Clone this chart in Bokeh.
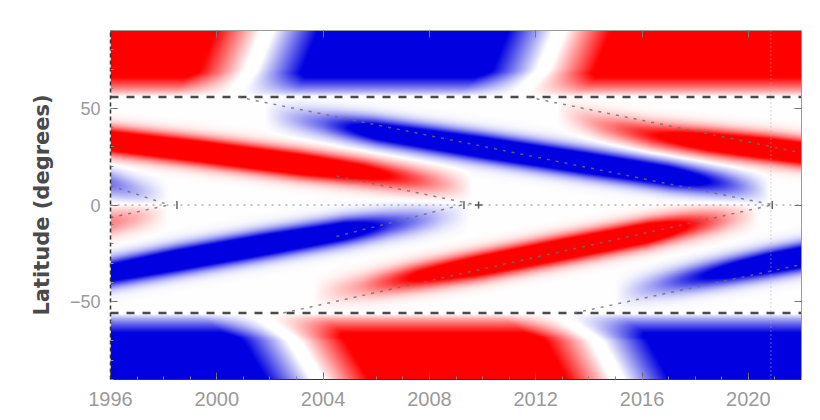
import numpy as np
from bokeh.plotting import figure
from bokeh.models import Range1d, FixedTicker, LinearAxis
from bokeh.embed import file_html
from bokeh.resources import INLINE

# ---------------- data ----------------
year_start, year_end = 1996, 2022
lat_start, lat_end = -90, 90
year_ticks = [1996, 2000, 2004, 2008, 2012, 2016, 2020]
year_minor = list(range(1996, 2023))
lat_ticks = [-50, 0, 50]
lat_tick_labels = ["\u221250", "0", "50"]
lat_minor = list(range(-90, 91, 10))
y_title = "Latitude (degrees)"

boundary_lat = [55.7, -55.7]          # dashed lines
reference_year = 2020.85              # faint vertical dotted line

# wing bands: year, centre latitude, strength (+ red, - blue)
n22_t = [1996.0, 1997.0, 1998.2]
n22_lat = [11.0, 7.5, 4.0]
n22_amp = [-0.55, -0.3, 0.0]

s22_t = [1996.0, 1997.0, 1998.2]
s22_lat = [-9.0, -6.5, -3.5]
s22_amp = [0.5, 0.3, 0.0]

n23_t = [1996.0, 1999.4, 2003.1, 2005.5, 2007.5, 2009.6]
n23_lat = [33.0, 27.5, 21.0, 17.0, 13.0, 9.0]
n23_amp = [1.7, 1.8, 1.8, 1.3, 0.7, 0.0]

n24_t = [2001.8, 2004.0, 2006.0, 2010.0, 2014.0, 2017.0, 2019.0, 2020.8]
n24_lat = [46.6, 42.1, 37.9, 29.7, 21.4, 15.2, 11.1, 7.4]
n24_amp = [0.0, -0.6, -1.4, -1.8, -1.8, -1.6, -0.8, 0.0]

n25_t = [2012.8, 2014.5, 2016.4, 2018.5, 2020.8, 2022.0]
n25_lat = [48.0, 41.0, 36.0, 32.5, 29.0, 27.0]
n25_amp = [0.0, 0.45, 0.95, 1.5, 1.8, 1.8]

s23_t = [1996.0, 1998.5, 2001.6, 2004.8, 2006.5, 2008.5, 2009.5]
s23_lat = [-35.0, -28.5, -21.0, -13.5, -10.0, -6.5, -4.5]
s23_amp = [-1.5, -1.8, -1.8, -1.5, -0.8, -0.2, 0.0]

s24_t = [2003.6, 2005.5, 2007.5, 2010.0, 2013.0, 2016.2, 2017.5, 2019.3, 2020.4]
s24_lat = [-46.0, -42.0, -37.0, -31.0, -23.0, -14.5, -11.0, -7.0, -4.5]
s24_amp = [0.0, 0.4, 1.1, 1.7, 1.8, 1.7, 1.1, 0.35, 0.0]

s25_t = [2015.0, 2016.5, 2018.0, 2019.3, 2020.8, 2022.0]
s25_lat = [-46.0, -41.5, -37.5, -34.0, -30.0, -27.0]
s25_amp = [0.0, -0.4, -0.9, -1.3, -1.7, -1.8]

# polar caps: years of polarity reversal at three |latitudes|
north_cap_lat = [56.0, 70.0, 90.0]
north_flip1 = [2000.6, 2001.3, 2001.9]
north_flip2 = [2011.3, 2012.3, 2012.9]
north_signs = [1, -1, 1]
south_cap_lat = [56.0, 70.0, 90.0]
south_flip1 = [2001.5, 2002.9, 2003.8]
south_flip2 = [2012.8, 2014.3, 2015.1]
south_signs = [-1, 1, -1]

# dotted guide lines (year, latitude pairs)
guide_xs = [[1996.0, 1998.2], [1996.0, 1998.2], [2004.5, 2009.6],
            [2000.8, 2020.95], [2011.7, 2022.0], [2004.5, 2009.2],
            [2002.5, 2020.9], [2013.45, 2022.0]]
guide_ys = [[10.0, 0.0], [-6.5, 0.0], [14.9, 0.5],
            [55.7, 0.0], [55.7, 26.9], [-16.2, 0.0],
            [-55.7, 0.0], [-55.7, -30.7]]
equator_marks = [1998.5, 2009.3, 2020.9]
equator_cross = [2009.85]

# ---------------- field rendering ----------------
nx, ny = 691, 349
tt = year_start + (np.arange(nx) + 0.5) * (year_end - year_start) / nx
ll = lat_start + (np.arange(ny) + 0.5) * (lat_end - lat_start) / ny
T, L = np.meshgrid(tt, ll)
sigma = 4.7
field = np.zeros_like(T)
bands = [(n22_t, n22_lat, n22_amp), (s22_t, s22_lat, s22_amp),
         (n23_t, n23_lat, n23_amp), (n24_t, n24_lat, n24_amp),
         (n25_t, n25_lat, n25_amp), (s23_t, s23_lat, s23_amp),
         (s24_t, s24_lat, s24_amp), (s25_t, s25_lat, s25_amp)]
for bt, bl, ba in bands:
    c = np.interp(tt, bt, bl)
    a = np.interp(tt, bt, ba, left=0.0, right=0.0)
    field += a[None, :] * np.exp(-(L - c[None, :]) ** 2 / (2 * sigma ** 2))


def cap(cap_lat, f1p, f2p, signs, north):
    al = np.abs(L)
    f1 = np.interp(al, cap_lat, f1p)
    f2 = np.interp(al, cap_lat, f2p)
    sgn = np.where(T < f1, signs[0], np.where(T < f2, signs[1], signs[2]))
    dt = np.minimum(np.abs(T - f1), np.abs(T - f2))
    mag = np.clip((dt - 0.25) / 2.0, 0, 1) * 1.2
    latf = np.clip((al - 56.3) / 12.0, 0, 1) ** 0.8
    mask = (L > 0) if north else (L < 0)
    return np.where(mask, sgn * mag * latf, 0.0)


field += cap(north_cap_lat, north_flip1, north_flip2, north_signs, True)
field += cap(south_cap_lat, south_flip1, south_flip2, south_signs, False)
v = np.clip(field, -1, 1)
av = np.abs(v)
r = np.where(v >= 0, 255.0, 255.0 * (1 - av))
g = 255.0 * (1 - av)
b = np.where(v >= 0, 255.0 * (1 - av), 255.0 - 30.0 * av)
img = np.empty((ny, nx), dtype=np.uint32)
view = img.view(dtype=np.uint8).reshape((ny, nx, 4))
view[..., 0] = r.astype(np.uint8)
view[..., 1] = g.astype(np.uint8)
view[..., 2] = b.astype(np.uint8)
view[..., 3] = 255

# ---------------- figure ----------------
p = figure(frame_width=691, frame_height=349, output_backend="svg",
           toolbar_location=None,
           x_range=Range1d(year_start, year_end), y_range=Range1d(lat_start, lat_end),
           min_border_left=110, min_border_right=19, min_border_top=30,
           min_border_bottom=38)
p.background_fill_color = "white"
p.border_fill_color = "white"
p.outline_line_color = None
p.grid.visible = False

p.image_rgba(image=[img], x=year_start, y=lat_start,
             dw=year_end - year_start, dh=lat_end - lat_start)

p.multi_line(xs=[[year_start, year_end]] * 2, ys=[[bl, bl] for bl in boundary_lat],
             line_color="#2b2b2b", line_width=2.5, line_dash="8 8", line_alpha=0.85)
p.line([year_start, year_end], [0, 0], line_color="#888888", line_width=1,
       line_dash="2 5")
p.line([reference_year, reference_year], [lat_start, lat_end], line_color="#b0b0b0",
       line_width=1, line_dash="1 3")
p.multi_line(xs=guide_xs, ys=guide_ys, line_color="#6e6e6e", line_width=1.5,
             line_dash="3 6", line_alpha=0.8)
p.scatter(equator_marks, [0] * len(equator_marks), marker="dash", angle=np.pi / 2,
          size=8, line_color="#666666", line_width=1.5)
p.scatter(equator_cross, [0] * len(equator_cross), marker="cross", size=7,
          line_color="#555555", line_width=1.5)

# axes
xt = FixedTicker(ticks=year_ticks, minor_ticks=year_minor)
yt = FixedTicker(ticks=lat_ticks, minor_ticks=lat_minor)
for ax in [p.xaxis[0], p.yaxis[0]]:
    ax.major_tick_in = 7
    ax.major_tick_out = 0
    ax.minor_tick_in = 3
    ax.minor_tick_out = 0
    ax.major_tick_line_color = "#666666"
    ax.minor_tick_line_color = "#888888"
    ax.major_label_text_color = "#9a9a9a"
    ax.major_label_text_font = "Liberation Sans"
p.xaxis.ticker = xt
p.yaxis.ticker = yt
p.xaxis.major_label_text_font_size = "20px"
p.xaxis.major_label_standoff = 12
p.xaxis.axis_line_color = "#333333"
p.yaxis.major_label_text_font_size = "18px"
p.yaxis.major_label_standoff = 10
p.yaxis.major_label_overrides = dict(zip(lat_ticks, lat_tick_labels))
p.yaxis.axis_line_color = "#333333"
p.yaxis.axis_line_width = 1.5
p.yaxis.axis_line_dash = "4 3"
p.yaxis.axis_label = y_title
p.yaxis.axis_label_text_font = "DejaVu Sans"
p.yaxis.axis_label_text_font_style = "bold"
p.yaxis.axis_label_text_font_size = "21px"
p.yaxis.axis_label_text_color = "#4a4a4a"
p.yaxis.axis_label_standoff = 13

# mirrored tick marks on the right and top (no labels)
for loc, ticks in [("right", lat_ticks), ("above", year_ticks)]:
    ax = LinearAxis(ticker=FixedTicker(ticks=[], minor_ticks=ticks),
                    minor_tick_in=7, minor_tick_out=0, major_tick_in=0, major_tick_out=0,
                    minor_tick_line_color="#777777", axis_line_color="#9a9a9a",
                    major_label_standoff=0)
    p.add_layout(ax, loc)

open("out.html", "w").write(file_html(p, INLINE))
